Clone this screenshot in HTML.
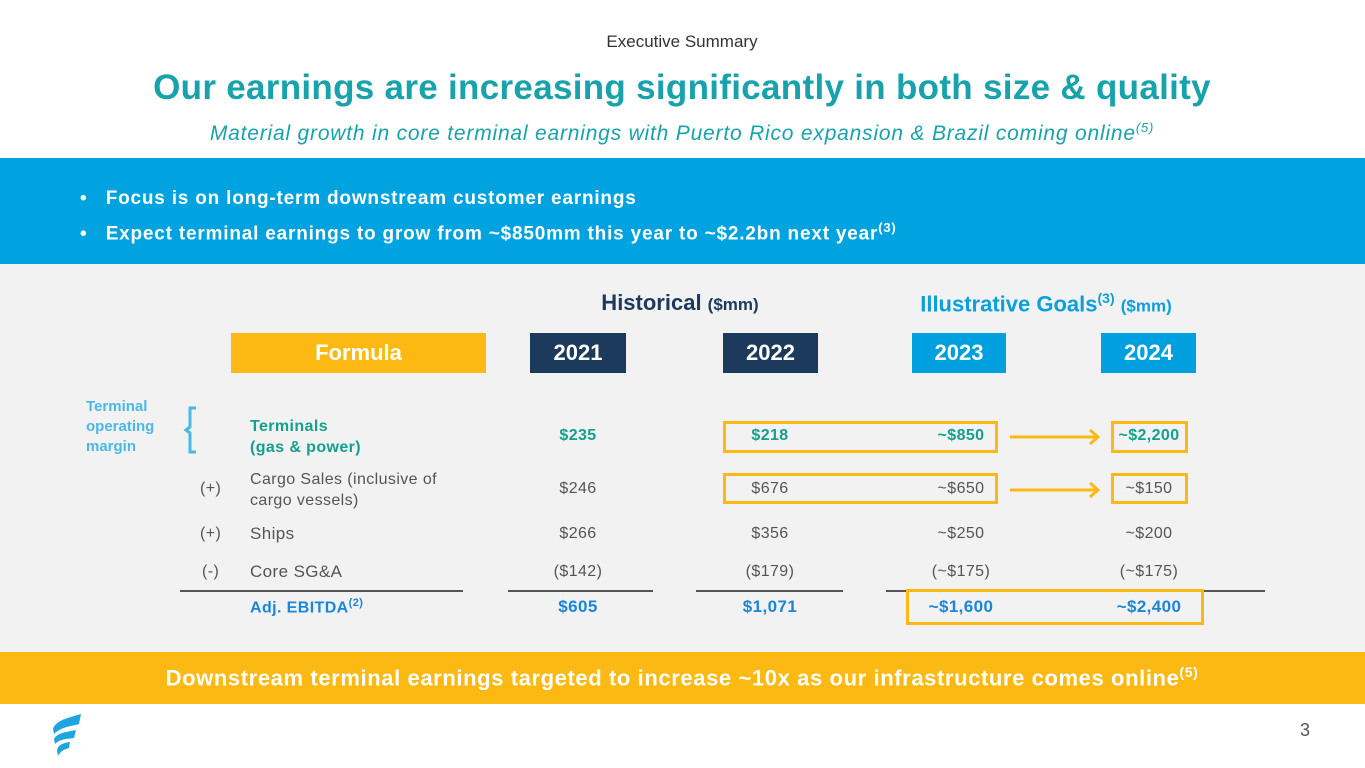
<!DOCTYPE html>
<html><head><meta charset="utf-8"><style>
*{margin:0;padding:0;box-sizing:border-box}
body{width:1365px;height:768px;position:relative;overflow:hidden;background:#fff;font-family:"Liberation Sans",sans-serif}
.a{position:absolute;white-space:nowrap}
.c{text-align:center;transform:translateX(-50%)}
.hdr{color:#fff;font-weight:bold;font-size:22px;line-height:40px;text-align:center}
.v{font-size:16px;color:#555;letter-spacing:0.4px}
.g{color:#14a08e;font-weight:bold}
.b{color:#1a86d9;font-weight:bold}
.box{position:absolute;border:3px solid #fdb913}
.ln{position:absolute;height:1.5px;background:#555;top:590px}
</style></head><body>
<div class="a c" style="left:682px;top:32px;font-size:17px;color:#333">Executive Summary</div>
<div class="a c" style="left:682px;top:68px;font-size:35px;font-weight:bold;color:#17a2ac;letter-spacing:0.3px">Our earnings are increasing significantly in both size &amp; quality</div>
<div class="a c" style="left:682px;top:120px;font-size:21px;font-style:italic;color:#17a2ac;letter-spacing:0.8px">Material growth in core terminal earnings with Puerto Rico expansion &amp; Brazil coming online<sup style="font-size:13px">(5)</sup></div>
<div class="a" style="left:0;top:158px;width:1365px;height:106px;background:#00a3e0"></div>
<div class="a" style="left:80px;top:184px;font-size:19px;font-weight:bold;color:#fff;line-height:29px;letter-spacing:0.8px">•&nbsp;&nbsp;&nbsp;Focus is on long-term downstream customer earnings<br>•&nbsp;&nbsp;&nbsp;Expect terminal earnings to grow from ~$850mm this year to ~$2.2bn next year<sup style="font-size:13px">(3)</sup></div>
<div class="a" style="left:0;top:264px;width:1365px;height:388px;background:#f2f2f2"></div>
<div class="a c" style="left:680px;top:290px;font-size:22px;font-weight:bold;color:#1b3a5c">Historical <span style="font-size:17px">($mm)</span></div>
<div class="a c" style="left:1046px;top:290px;font-size:22px;font-weight:bold;color:#0c9fdc">Illustrative Goals<sup style="font-size:14px">(3)</sup> <span style="font-size:17px">($mm)</span></div>
<div class="a hdr" style="left:231px;top:333px;width:255px;height:40px;background:#fdb913">Formula</div>
<div class="a hdr" style="left:530px;top:333px;width:96px;height:40px;background:#1b3a5c">2021</div>
<div class="a hdr" style="left:723px;top:333px;width:95px;height:40px;background:#1b3a5c">2022</div>
<div class="a hdr" style="left:912px;top:333px;width:94px;height:40px;background:#009fdf">2023</div>
<div class="a hdr" style="left:1101px;top:333px;width:95px;height:40px;background:#009fdf">2024</div>
<div class="a" style="left:86px;top:397px;font-size:15px;font-weight:bold;color:#4cb8e6;line-height:20px">Terminal<br>operating<br>margin</div>
<svg class="a" style="left:180px;top:405px" width="20" height="50"><path d="M16 3 H10 V22 L6 25 L10 28 V47 H16" fill="none" stroke="#4cb8e6" stroke-width="3"/></svg>
<div class="a g" style="left:250px;top:416px;font-size:16px;line-height:21px;letter-spacing:0.4px">Terminals<br>(gas &amp; power)</div>
<div class="a v" style="left:200px;top:480px">(+)</div>
<div class="a v" style="left:250px;top:469px;line-height:21px">Cargo Sales (inclusive of<br>cargo vessels)</div>
<div class="a v" style="left:200px;top:525px">(+)</div>
<div class="a v" style="left:250px;top:524px;font-size:17px">Ships</div>
<div class="a v" style="left:202px;top:563px">(-)</div>
<div class="a v" style="left:250px;top:562px;font-size:17px">Core SG&amp;A</div>
<div class="a b" style="left:250px;top:597px;font-size:16px;letter-spacing:0.4px">Adj. EBITDA<sup style="font-size:11px">(2)</sup></div>
<div class="ln" style="left:180px;width:283px"></div>
<div class="ln" style="left:508px;width:145px"></div>
<div class="ln" style="left:696px;width:147px"></div>
<div class="ln" style="left:886px;width:379px"></div>
<div id="vals"></div>
<div class="box" style="left:723px;top:421px;width:275px;height:32px"></div>
<div class="box" style="left:723px;top:473px;width:275px;height:31px"></div>
<div class="box" style="left:1111px;top:421px;width:77px;height:32px"></div>
<div class="box" style="left:1111px;top:473px;width:77px;height:31px"></div>
<div class="box" style="left:906px;top:589px;width:298px;height:36px"></div>
<svg class="a" style="left:1008px;top:425px" width="95" height="75"><g stroke="#fdb913" stroke-width="3" fill="none"><path d="M2 12 H90 M82 5 L90 12 L82 19"/><path d="M2 65 H90 M82 58 L90 65 L82 72"/></g></svg>
<div class="a" style="left:0;top:652px;width:1365px;height:52px;background:#fdb913"></div>
<div class="a c" style="left:682px;top:664px;font-size:22px;font-weight:bold;color:#fff;letter-spacing:0.6px">Downstream terminal earnings targeted to increase ~10x as our infrastructure comes online<sup style="font-size:14px">(5)</sup></div>
<svg class="a" style="left:48px;top:712px" width="36" height="46"><g fill="#1ea5e0"><path d="M33 2 C20 6 8 8 5 17 L6 22 C14 14 26 14 31 12 Z"/><path d="M28 18 C18 20 9 21 6 27 L7 32 C13 26 22 27 26 26 Z"/><path d="M22 30 C15 31 10 33 9 38 L10 44 C13 38 18 37 21 36 Z"/></g></svg>
<div class="a" style="left:1300px;top:720px;font-size:18px;color:#555">3</div>
<script>
const rows=['terminals','cargo','ships','sga','ebitda'];
const v2021=['$235','$246','$266','($142)','$605'];
const v2022=['$218','$676','$356','($179)','$1,071'];
const v2023=['~$850','~$650','~$250','(~$175)','~$1,600'];
const v2024=['~$2,200','~$150','~$200','(~$175)','~$2,400'];
const rowY=[427,480,525,563,597];
const colX=[578,770,961,1149];
const cont=document.getElementById('vals');
[v2021,v2022,v2023,v2024].forEach((col,ci)=>{col.forEach((t,ri)=>{
const d=document.createElement('div');


d.className='a c v'+(ri==0?' g':ri==4?' b':'');
d.style.left=colX[ci]+'px';d.style.top=rowY[ri]+'px';
d.style.fontSize=(ri==4)?'17px':'16px';
d.textContent=t;cont.appendChild(d);});});
</script>
</body></html>
